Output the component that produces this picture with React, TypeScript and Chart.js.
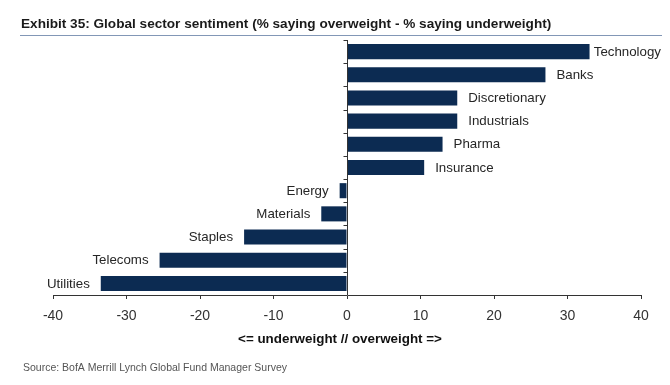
import React, { useEffect, useRef } from "react";
import { Chart, registerables } from "chart.js";

Chart.register(...registerables);

const categories = [
  "Technology",
  "Banks",
  "Discretionary",
  "Industrials",
  "Pharma",
  "Insurance",
  "Energy",
  "Materials",
  "Staples",
  "Telecoms",
  "Utilities",
];
const sentiment = [33, 27, 15, 15, 13, 10.5, -1, -3.5, -14, -25.5, -33.5];
const xTicks = [-40, -30, -20, -10, 0, 10, 20, 30, 40];
const titleText =
  "Exhibit 35: Global sector sentiment (% saying overweight - % saying underweight)";
const axisTitle = "<= underweight // overweight =>";
const sourceText = "Source: BofA Merrill Lynch Global Fund Manager Survey";

const FONT = '"Liberation Sans", Arial, sans-serif';
const W = 654;
const H = 369;

const decorPlugin = {
  id: "decor",
  afterDraw(chart: any) {
    const ctx = chart.ctx as CanvasRenderingContext2D;
    const xs = chart.scales.x;
    const area = chart.chartArea;
    ctx.save();

    // vertical axis at zero with ticks on category boundaries
    const x0 = Math.round(xs.getPixelForValue(0)) + 0.5;
    ctx.strokeStyle = "#333333";
    ctx.lineWidth = 1;
    ctx.beginPath();
    ctx.moveTo(x0, area.top);
    ctx.lineTo(x0, area.bottom);
    ctx.stroke();
    const n = categories.length;
    for (let i = 0; i < n; i++) {
      const yy = Math.round(area.top + (i * area.height) / n) + 0.5;
      ctx.beginPath();
      ctx.moveTo(x0 - 4, yy);
      ctx.lineTo(x0, yy);
      ctx.stroke();
    }

    // bar labels
    const meta = chart.getDatasetMeta(0);
    ctx.font = `13.3px ${FONT}`;
    ctx.fillStyle = "#262626";
    ctx.textBaseline = "middle";
    meta.data.forEach((bar: any, i: number) => {
      const v = sentiment[i];
      const label = categories[i];
      const w = ctx.measureText(label).width;
      if (v >= 0) {
        let tx = bar.x + 11;
        if (tx + w > chart.width - 1) tx = chart.width - 1 - w;
        ctx.textAlign = "left";
        ctx.fillText(label, tx, bar.y + 0.5);
      } else {
        ctx.textAlign = "right";
        ctx.fillText(label, bar.x - 11, bar.y + 0.5);
      }
    });

    // axis title
    ctx.textAlign = "center";
    ctx.fillStyle = "#111111";
    ctx.font = `bold 13.4px ${FONT}`;
    ctx.fillText(axisTitle, (area.left + area.right) / 2 - 7, area.bottom + 44);

    // title and rule
    ctx.textAlign = "left";
    ctx.textBaseline = "alphabetic";
    ctx.fillStyle = "#1a1a1a";
    ctx.font = `bold 13.6px ${FONT}`;
    ctx.fillText(titleText, 13, 20);
    ctx.strokeStyle = "#8297b6";
    ctx.lineWidth = 1;
    ctx.beginPath();
    ctx.moveTo(12, 27.5);
    ctx.lineTo(chart.width, 27.5);
    ctx.stroke();

    // source
    ctx.fillStyle = "#555555";
    ctx.font = `10.5px ${FONT}`;
    ctx.fillText(sourceText, 15, 363);

    ctx.restore();
  },
};

export default function App() {
  const ref = useRef<HTMLCanvasElement>(null);

  useEffect(() => {
    if (!ref.current) return;
    const chart = new Chart(ref.current, {
      type: "bar",
      data: {
        labels: categories,
        datasets: [
          {
            data: sentiment,
            backgroundColor: "#0c2b52",
            borderWidth: 0,
            barPercentage: 0.65,
            categoryPercentage: 1,
          },
        ],
      },
      options: {
        indexAxis: "y",
        responsive: false,
        animation: false,
        layout: { padding: { left: 45, right: 21, top: 32, bottom: 42 } },
        plugins: {
          legend: { display: false },
          tooltip: { enabled: false },
          title: { display: false },
        },
        scales: {
          x: {
            min: -40,
            max: 40,
            afterBuildTicks: (s: any) => {
              s.ticks = xTicks.map((v) => ({ value: v }));
            },
            afterFit: (s: any) => {
              s.height = 40;
            },
            grid: {
              drawOnChartArea: false,
              drawTicks: true,
              tickLength: 4,
              color: "#333333",
            },
            border: { display: true, color: "#333333", width: 1 },
            ticks: {
              color: "#333333",
              font: { family: FONT, size: 14 },
              padding: 8.5,
              maxRotation: 0,
              autoSkip: false,
            },
            title: { display: false },
          },
          y: { display: false },
        },
      },
      plugins: [decorPlugin],
    } as any);
    return () => chart.destroy();
  }, []);

  return (
    <canvas
      ref={ref}
      width={W}
      height={H}
      style={{ display: "block", width: W, height: H }}
    />
  );
}
